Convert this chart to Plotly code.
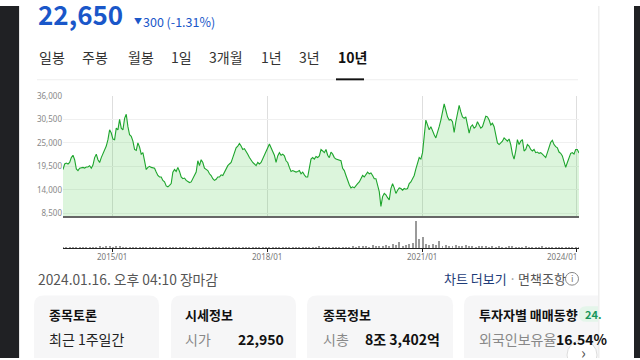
import pandas as pd
import plotly.graph_objects as go

W, H = 640, 360
KR = "Noto Sans CJK KR"
BLUE = "#1a57c9"

START, END = "2014-01-16", "2024-01-16"

price = [
    18750, 20050, 20250, 20050, 20400, 21550, 22100, 21050, 18900, 18500,
    19050, 19200, 19250, 19100, 19350, 19350, 19650, 19050, 19800, 21550,
    22350, 21050, 20400, 21550, 22350, 23250, 24250, 25750, 28050, 27300,
    25900, 25750, 28450, 28050, 30500, 28450, 28050, 30750, 31700, 28800,
    26900, 26550, 25400, 23450, 23250, 25000, 24000, 22350, 22700, 20800,
    18750, 19250, 19500, 19250, 19200, 19050, 18150, 17350, 17000, 17000,
    16200, 15850, 14900, 14700, 15050, 15450, 18150, 18750, 18300, 19250,
    18300, 17000, 16600, 16750, 16200, 15850, 15700, 15850, 16600, 17350,
    18150, 20800, 19650, 21050, 20400, 19050, 18750, 18500, 17750, 17350,
    16600, 16200, 16450, 17000, 17000, 17500, 17350, 18150, 18900, 19650,
    20050, 20400, 21550, 22700, 23850, 24250, 24850, 24250, 23450, 23650,
    23100, 22350, 21550, 20800, 20400, 20050, 19650, 20400, 20050, 20400,
    21200, 22100, 22700, 23850, 24750, 23850, 23100, 22100, 20400, 21950,
    22700, 22100, 22350, 21950, 20800, 20400, 19250, 18300, 18500, 18300,
    18150, 18300, 18500, 17750, 18150, 17500, 17000, 17000, 18900, 21200,
    21550, 21200, 21800, 21550, 21950,
    23450, 23100, 22700, 23450, 22100, 21550, 22850, 22350, 21550, 21200,
    21050, 20800, 20800, 19050, 18500, 17350, 16200, 15200, 14450, 14700,
    14450, 15050, 15450, 15850, 16600, 17350, 17000, 17750, 18150, 17750,
    17950, 17350, 16600, 16600, 15050, 13550, 10100, 12400, 13150, 12800,
    12150, 11650, 14300, 15450, 14450, 13150, 13900, 14450, 14300, 13900,
    14300, 14150, 14300, 15450, 15850, 16600, 17350, 18900, 20400, 21550,
    21200, 22700, 26550, 30350, 29200, 28050, 28800, 27650, 26900, 26150,
    27300, 28800, 30350, 32250, 34150, 32650, 31100, 30350, 30500, 29950,
    27450, 29950, 32250, 33800, 32250, 31100, 30750, 31100, 29200, 27300,
    28800, 29200, 28450, 28800, 29950, 29200, 28450, 28800, 29950, 31250,
    31100, 30350, 29200, 29600, 28800, 26550, 25000, 24600, 25000, 25400,
    26150, 25750, 25400, 25900, 24600, 22350, 21200, 23100, 25750, 24600,
    25400, 25750, 23100, 23450, 24600, 24250, 23450, 23100, 23450, 22700,
    22850, 22550, 22700, 22350, 21950, 21550, 22700, 23850, 25150, 25600,
    24600, 24100, 23850, 22850, 22550, 21950, 20400, 19250, 20400, 21550,
    22550, 22700, 22350, 23450, 23450, 22650,
]

volume = [  # millions of shares
    1.2, 0.9, 1.1, 1.4, 0.8, 1.0, 1.6, 1.2, 0.9, 1.3, 1.8, 2.2, 1.5, 1.9, 2.4, 1.7, 2.0, 2.6, 1.8, 1.5,
    1.2, 1.4, 1.0, 0.9, 1.1, 0.8, 1.3, 1.0, 0.9, 1.2, 0.8, 1.1, 0.9, 1.0, 1.3, 0.7, 0.9, 1.2, 1.0, 0.8,
    1.1, 1.4, 1.0, 0.9, 1.2, 0.8, 1.0, 1.3, 1.1, 0.9, 1.2, 1.6, 1.3, 1.0, 1.4, 1.8, 1.2, 1.0, 0.9, 1.1,
    1.5, 1.3, 1.0, 0.8, 1.2, 0.9, 1.0, 1.1, 0.8, 1.3, 1.0, 0.9, 1.2, 1.0, 0.8, 1.1, 1.4, 1.9, 1.2, 1.0,
    1.1, 0.9, 1.3, 1.6, 1.2, 1.0, 1.5, 2.0, 1.7, 2.2, 2.8, 2.1, 1.6, 3.5, 2.4, 1.9, 2.6, 3.2, 2.2, 4.0,
    3.1, 6.0, 2.5, 3.4, 4.2, 5.1, 28.0, 9.5, 12.0, 4.8, 3.6, 4.1, 3.2, 7.0, 2.6, 3.8, 2.9, 2.4, 3.1, 2.2,
    2.7, 3.3, 2.0, 2.5, 1.8, 2.2, 1.9, 2.6, 1.7, 2.0, 1.6, 2.1, 1.8, 1.5, 1.9, 2.3, 1.6, 1.4, 1.8, 2.0,
    1.5, 1.3, 1.7, 1.4, 1.9, 1.6, 1.2, 1.5, 1.8, 1.3, 1.4, 1.7, 1.2, 1.6, 1.3, 1.5,
]

price_ticks = [8500, 14000, 19500, 25000, 30500, 36000]
year_ticks = ["2015-01-01", "2018-01-01", "2021-01-01", "2024-01-01"]
year_labels = ["2015/01", "2018/01", "2021/01", "2024/01"]

tabs = ["일봉", "주봉", "월봉", "1일", "3개월", "1년", "3년", "10년"]

dates = pd.date_range(START, END, periods=len(price))
vdates = pd.date_range(START, END, periods=len(volume))


def fx(p):
    return p / W


def fy(p):
    return 1 - p / H


fig = go.Figure()
fig.add_trace(go.Scatter(
    x=dates, y=price, mode="lines", xaxis="x", yaxis="y",
    line=dict(color="#1ea52d", width=1.1),
    fill="tozeroy", fillcolor="rgba(60,200,60,0.18)", hoverinfo="skip"))
fig.add_trace(go.Bar(
    x=vdates, y=volume, xaxis="x2", yaxis="y2",
    marker=dict(color="#9a9a9a", line=dict(width=0)),
    width=7 * 24 * 3600 * 1000, hoverinfo="skip"))

shapes = []
ann = []


def txt(x, y, s, size, color, bold=False, xanchor="left", family=KR):
    ann.append(dict(x=x, y=y, xref="x3", yref="y3",
                    text=f"<b>{s}</b>" if bold else s, showarrow=False,
                    xanchor=xanchor, yanchor="middle", borderpad=0,
                    font=dict(family=family, size=size, color=color)))


def rrect(x0, y0, x1, y1, r, fill, line=None):
    p = (f"M{x0+r},{y0} L{x1-r},{y0} Q{x1},{y0} {x1},{y0+r} L{x1},{y1-r} "
         f"Q{x1},{y1} {x1-r},{y1} L{x0+r},{y1} Q{x0},{y1} {x0},{y1-r} "
         f"L{x0},{y0+r} Q{x0},{y0} {x0+r},{y0} Z")
    shapes.append(dict(type="path", path=p, xref="x3", yref="y3",
                       fillcolor=fill, line=dict(width=1 if line else 0, color=line or fill),
                       layer="above"))


def rect(x0, y0, x1, y1, fill):
    shapes.append(dict(type="rect", x0=x0, y0=y0, x1=x1, y1=y1, xref="x3", yref="y3",
                       fillcolor=fill, line=dict(width=0), layer="above"))


# header
txt(37, 8, "22,650", 26, BLUE, bold=True)
txt(133, 15, "▼", 8, BLUE)
txt(142, 16, "300 (-1.31%)", 12.5, BLUE)

# tabs
tab_x = [38, 81, 127, 170, 208, 260, 298, 337]
for t, x in zip(tabs, tab_x):
    txt(x, 52, t, 14, "#111" if t == "10년" else "#333", bold=(t == "10년"))
rect(37, 75, 578, 76, "#eeeeee")
rect(336, 74, 364, 76, "#111111")

# bottom info line
txt(37, 279, "2024.01.16. 오후 04:10 장마감", 13.8, "#555")
txt(443, 279, "차트 더보기", 13, "#1d3c78")
txt(508, 279, "·", 13, "#999")
txt(517, 279, "면책조항", 13, "#555")
shapes.append(dict(type="circle", x0=565.5, y0=272.5, x1=578.5, y1=285.5, xref="x3", yref="y3",
                   line=dict(color="#888", width=1), fillcolor="white", layer="above"))
txt(572, 279, "i", 9, "#777", xanchor="center")

# cards
rrect(34, 296, 159, 380, 10, "#f6f6f7")
rrect(171, 296, 296, 380, 10, "#f6f6f7")
rrect(307, 296, 453, 380, 10, "#f6f6f7")
rrect(464, 296, 620, 380, 10, "#f6f6f7")

txt(48, 315, "종목토론", 13, "#111", bold=True)
txt(48, 341, "최근 1주일간", 14, "#222")
txt(48, 362, "219개의", 14, "#111", bold=True)

txt(184, 315, "시세정보", 13, "#111", bold=True)
txt(184, 341, "시가", 14, "#888")
txt(237, 341, "22,950", 14, "#111", bold=True)
txt(184, 362, "1년 최고", 14, "#888")
txt(237, 362, "36,400", 14, "#111", bold=True)

txt(322, 315, "종목정보", 13, "#111", bold=True)
txt(322, 341, "시총", 14, "#888")
txt(364, 341, "8조 3,402억", 14, "#111", bold=True)
txt(322, 362, "거래량", 14, "#888")
txt(364, 362, "621,993", 14, "#111", bold=True)

txt(478, 315, "투자자별 매매동향", 13, "#111", bold=True)
rrect(579, 307, 612, 323, 7, "#e4f5ea")
txt(584, 315, "24.", 11, "#17965a", bold=True)
txt(478, 341, "외국인보유율", 14, "#888")
txt(555, 341, "16.54%", 14, "#111", bold=True)
txt(478, 362, "외국인매매", 14, "#888")
shapes.append(dict(type="circle", x0=567, y0=342, x1=597, y1=372, xref="x3", yref="y3",
                   line=dict(color="#dddddd", width=1), fillcolor="white", layer="above"))
txt(583, 354, "›", 16, "#555", xanchor="center")

# page frame
rect(599, 0, 634, 360, "#ffffff")
rect(598, 0, 599.5, 360, "#eeeeee")
rect(0, 0, 19, 360, "#202124")
rect(19, 0, 20, 360, "#e8e8e8")
rect(634, 0, 640, 360, "#202124")

# volume axis tick labels
for v, lab in zip(year_ticks, year_labels):
    last = lab == year_labels[-1]
    ann.append(dict(x=v, y=fy(256), xref="x2", yref="paper", text=lab, showarrow=False,
                    xanchor="right" if last else "center", yanchor="middle",
                    xshift=2 if last else 0,
                    font=dict(family="Noto Sans", size=8, color="#777")))

dom = [fx(63), fx(579)]
fig.update_layout(
    width=W, height=H, margin=dict(l=0, r=0, t=0, b=0),
    paper_bgcolor="white", plot_bgcolor="rgba(0,0,0,0)",
    showlegend=False, bargap=0,
    xaxis=dict(domain=dom, anchor="y", range=[START, END], tickvals=year_ticks,
               showticklabels=False, ticks="", showgrid=True, gridcolor="#dedede",
               gridwidth=1, showline=True, linecolor="#666", linewidth=2,
               zeroline=False, fixedrange=True),
    yaxis=dict(domain=[fy(215), fy(92)], anchor="x", range=[7800, 36000],
               tickvals=price_ticks, ticktext=[f"{v:,}" for v in price_ticks],
               tickfont=dict(family="Noto Sans", size=8, color="#888"),
               showgrid=True, gridcolor="#f0f0f0", zeroline=False, showline=False,
               ticks="", fixedrange=True),
    xaxis2=dict(domain=dom, anchor="y2", range=[START, END], tickvals=year_ticks,
                showticklabels=False, ticks="outside", ticklen=3, tickcolor="#222",
                showgrid=False, showline=True, linecolor="#222", linewidth=1,
                zeroline=False, fixedrange=True),
    yaxis2=dict(domain=[fy(248), fy(218)], anchor="x2", range=[0, 30], visible=False,
                fixedrange=True),
    xaxis3=dict(domain=[0, 1], anchor="y3", range=[0, W], visible=False, fixedrange=True),
    yaxis3=dict(domain=[0, 1], anchor="x3", range=[H, 0], visible=False, fixedrange=True),
    shapes=shapes, annotations=ann,
)

fig.write_html("out.html", config={"displayModeBar": False},
               post_script="document.body.style.margin='0';document.body.style.overflow='hidden';")
